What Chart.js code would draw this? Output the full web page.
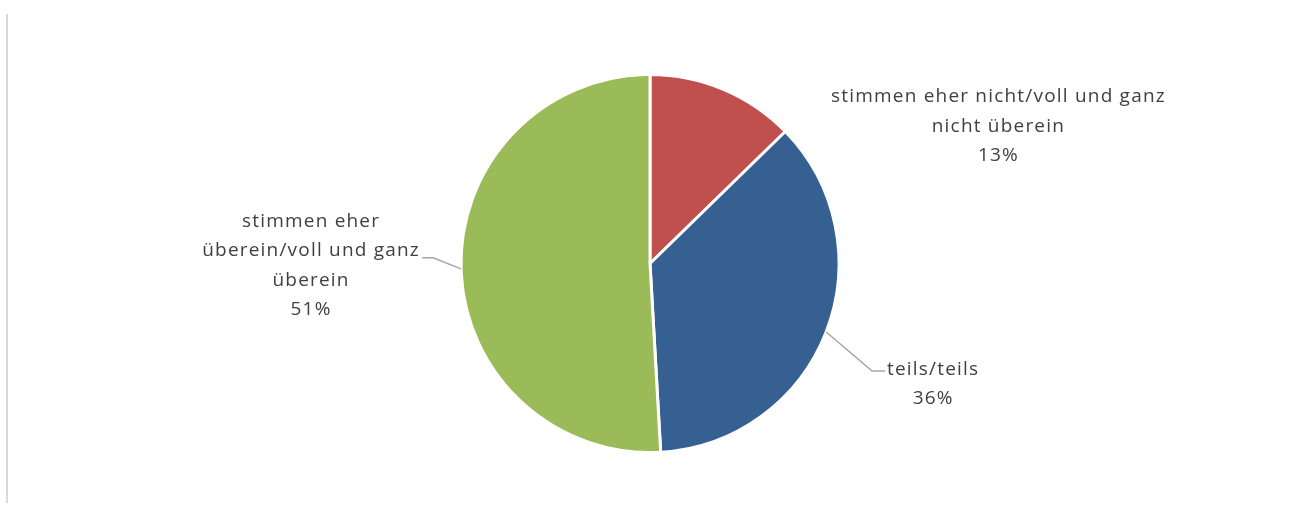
<!DOCTYPE html>
<html>
<head>
<meta charset="utf-8">
<script src="https://cdn.jsdelivr.net/npm/chart.js@4/dist/chart.umd.min.js"></script>
<style>
  html, body { margin: 0; padding: 0; background: #fff; }
  canvas { display: block; }
</style>
</head>
<body>
<canvas id="pie-chart" width="1291" height="505"></canvas>
<script>
// values (percent)
let categories = [
    ["stimmen eher nicht/voll und ganz", "nicht überein"],
    ["teils/teils"],
    ["stimmen eher", "überein/voll und ganz", "überein"]
];
let shares = [12.7, 36.4, 50.9];
let sliceColors = ["#C0504D", "#376092", "#9BBB59"];

// where each label sits, relative to the point on the rim at the slice middle
let labelLayout = [
    {dx: 275, dy: 37, leader: null},
    {dx: 107, dy: 52, leader: [[46, 39], [59, 39]]},
    {dx: -150, dy: -3, leader: [[-28, -11], [-39, -11]]}
];

let lineHeight = 29.5;

let frameLine = {
    id: 'frameLine',
    beforeDraw(chart){
        let ctx = chart.ctx;
        ctx.save();
        ctx.fillStyle = '#d9d9d9';
        ctx.fillRect(6, 14, 2, 489);
        ctx.restore();
    }
};

let pieLabels = {
    id: 'pieLabels',
    afterDraw(chart){
        let ctx = chart.ctx;
        let meta = chart.getDatasetMeta(0);
        let total = shares.reduce((a, b) => a + b, 0);
        ctx.save();
        meta.data.forEach((arc, i) => {
            let mid = (arc.startAngle + arc.endAngle) / 2;
            let ex = arc.x + Math.cos(mid) * arc.outerRadius;
            let ey = arc.y + Math.sin(mid) * arc.outerRadius;
            let lay = labelLayout[i];
            if(lay.leader){
                ctx.strokeStyle = '#a6a6a6';
                ctx.lineWidth = 1.5;
                ctx.beginPath();
                ctx.moveTo(ex, ey);
                lay.leader.forEach(p => ctx.lineTo(ex + p[0], ey + p[1]));
                ctx.stroke();
            }
            let lines = categories[i].concat([Math.round(shares[i] / total * 100) + '%']);
            let cx = ex + lay.dx;
            let cy = ey + lay.dy - (lines.length - 1) * lineHeight / 2;
            ctx.fillStyle = '#404040';
            ctx.font = '19px "Open Sans"';
            ctx.letterSpacing = '1.2px';
            ctx.textAlign = 'center';
            ctx.textBaseline = 'middle';
            lines.forEach((t, j) => ctx.fillText(t, cx, cy + j * lineHeight));
        });
        ctx.restore();
    }
};

new Chart(document.querySelector('#pie-chart'), {
    type: 'pie',
    data: {
        labels: categories.map(c => c.join(' ')),
        datasets: [{
            data: shares,
            backgroundColor: sliceColors,
            borderColor: '#ffffff',
            borderWidth: 3
        }]
    },
    options: {
        responsive: false,
        animation: false,
        layout: { padding: { top: 73, bottom: 51, left: 9, right: 0 } },
        plugins: {
            legend: { display: false },
            tooltip: { enabled: false }
        }
    },
    plugins: [frameLine, pieLabels]
});
</script>
</body>
</html>
